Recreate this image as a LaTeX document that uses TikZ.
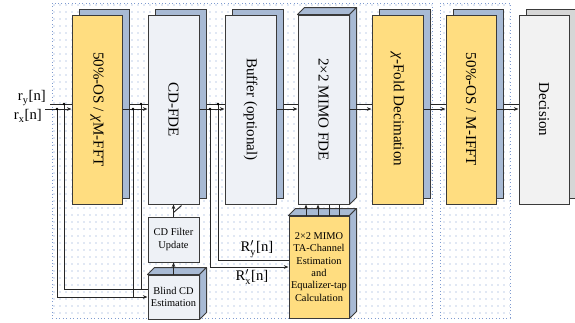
\documentclass[tikz,border=0pt]{standalone}
\usepackage{fontspec}
\setmainfont{Liberation Serif}
\usetikzlibrary{arrows.meta,fit,calc}
\definecolor{yel}{HTML}{FFDD80}
\definecolor{shd}{HTML}{A8BAD4}
\definecolor{lgb}{HTML}{EEF1F6}
\definecolor{gry}{HTML}{F2F2F2}
\definecolor{gsh}{HTML}{D6D6D6}
\definecolor{bordc}{HTML}{3A3A3A}
\definecolor{dotc}{HTML}{7F9BD0}
\tikzset{
  blk/.style={draw=bordc, line width=0.75pt, inner sep=0pt},
  sig/.style={draw=black!85, line width=0.7pt},
  arr/.style={sig, -{Stealth[length=3.5pt,width=2.8pt]}},
  lbl/.style={font=\fontsize{11.3}{13}\selectfont, rotate=-90, inner sep=0pt},
  sm/.style={font=\fontsize{7.8}{9.2}\selectfont, align=center, inner sep=0pt},
  sigtext/.style={font=\fontsize{11}{13}\selectfont, inner sep=0pt},
  jdot/.style={fill=black, radius=1.1pt},
}
\newcommand\mkblock[5]{%
  \node[blk, fill=#5, fit={(#2+7,9) (#3+7,198)}] (#1s) {};
  \node[blk, fill=#4, fit={(#2,15) (#3,204)}] (#1) {};
}
\newcommand\mkbox[7]{%
  \node[blk, fill=#6, fit={(#2,#3) (#4,#5)}] (#1) {};
  \draw[blk, fill=#7, line join=round] (#1.north west) -- ++(7,-7) -- ($(#1.north east)+(7,-7)$) -- (#1.north east) -- cycle;
  \draw[blk, fill=#7, line join=round] (#1.north east) -- ++(7,-7) -- ($(#1.south east)+(7,-7)$) -- (#1.south east) -- cycle;
}
\begin{document}
\begin{tikzpicture}[x=0.75pt,y=-0.75pt]
\useasboundingbox (0,0) rectangle (575,322);
% dotted background
\begin{scope}
  \clip (52,3) rectangle (432,318) (440,3) rectangle (510,318);
  \foreach \i in {0,...,76}{\foreach \j in {0,...,45}{\fill[dotc] (54+6*\i,5+7*\j) circle[radius=0.5pt];}}
\end{scope}
\draw[dotc, dotted, line width=0.6pt] (52,3) rectangle (432,318);
\draw[dotc, dotted, line width=0.6pt] (440,3) rectangle (510,318);

% main blocks
\mkblock{b1}{72}{122}{yel}{shd}
\mkblock{b2}{148}{199}{lgb}{shd}
\mkblock{b3}{225}{276}{lgb}{shd}
\node[fit={(305,8) (356,197)}, inner sep=0pt] (b4s) {};
\mkbox{b4}{298}{15}{349}{204}{lgb}{shd}
\mkblock{b5}{372}{423}{yel}{shd}
\mkblock{b6}{446}{496}{yel}{shd}
\mkblock{b7}{519}{569}{gry}{gsh}

\node[lbl] at (b1) {50\%-OS / {\itshape χ}M-FFT};
\node[lbl] at (b2) {CD-FDE};
\node[lbl] at (b3) {Buffer (optional)};
\node[lbl] at (b4) {2×2 MIMO FDE};
\node[lbl] at (b5) {{\itshape χ}-Fold Decimation};
\node[lbl] at (b6) {50\%-OS / M-IFFT};
\node[lbl] at (b7) {Decision};

% small blocks
\node[blk, fill=lgb, fit={(148,217) (199,262)}] (cdu) {};
\node[sm] at (cdu) {CD Filter\\Update};
\mkbox{bcd}{148}{275}{199}{319}{lgb}{shd}
\node[sm] at (bcd) {Blind CD\\Estimation};
\mkbox{ta}{289}{216}{349}{318}{yel}{shd}
\node[sm] at (ta) {2×2 MIMO\\TA-Channel\\Estimation\\and\\Equalizer-tap\\Calculation};

% input
\node[sigtext, anchor=east] (ry) at (46,98) {r$_{\mathrm{y}}$[n]};
\node[sigtext, anchor=east] (rx) at (42,116) {r$_{\mathrm{x}}$[n]};
\coordinate (ryin) at (50,104);
\coordinate (rxin) at (45,109);
\draw[sig] (ryin) -- (b1.west |- ryin);
\draw[arr] (rxin) -- (b1.west |- rxin);

% main chain
\foreach \a/\as/\b in {b1/b1s/b2,b2/b2s/b3,b3/b3s/b4,b4/b4s/b5,b5/b5s/b6,b6/b6s/b7}{
  \draw[arr] (\a.east |- 0,109) -- (\b.west |- 0,109);
  \draw[sig] (\as.east |- 0,104) -- (\b.west |- 0,104);
}

% taps to blind CD estimation
\coordinate (j1) at (57,109);
\coordinate (j2) at (64,104);
\coordinate (j3) at (133,109);
\coordinate (j4) at (141,104);
\coordinate (bx) at (bcd.west |- 0,297);
\coordinate (by) at (bcd.west |- 0,289);
\draw[arr] (j1) |- (bx);
\draw[sig] (j2) |- (by);
\draw[sig] (j3) -- (j3 |- bx);
\draw[sig] (j4) -- (j4 |- by);

% taps to MIMO TA estimation
\coordinate (j5) at (210,109);
\coordinate (j6) at (218,104);
\coordinate (tx) at (ta.west |- 0,267);
\coordinate (ty) at (ta.west |- 0,260);
\draw[arr] (j5) |- (tx);
\draw[sig] (j6) |- (ty);
\foreach \p in {j1,j2,j3,j4,j5,j6}{\fill[jdot] (\p) circle;}
\node[sigtext] (lry) at (257,249) {R$^{\prime}_{\mathrm{y}}$[n]};
\node[sigtext] (lrx) at (252,277) {R$^{\prime}_{\mathrm{x}}$[n]};

% CD update path
\draw[arr] (bcd.north) -- (cdu.south);
\draw[arr] (cdu.north) -- (b2.south);
\draw[sig] ($(cdu.north)+(0,-4)$) -- ++(8,-7);

% TA to MIMO FDE
\draw[arr] (ta.north -| 306,0) -- (b4.south -| 306,0);
\draw[arr] (ta.north -| 318,0) -- (b4.south -| 318,0);
\draw[sig] (ta.north -| 329,0) -- (b4.south -| 329,0);
\draw[sig] (ta.north -| 339,0) -- (b4.south -| 339,0);
\end{tikzpicture}
\end{document}
